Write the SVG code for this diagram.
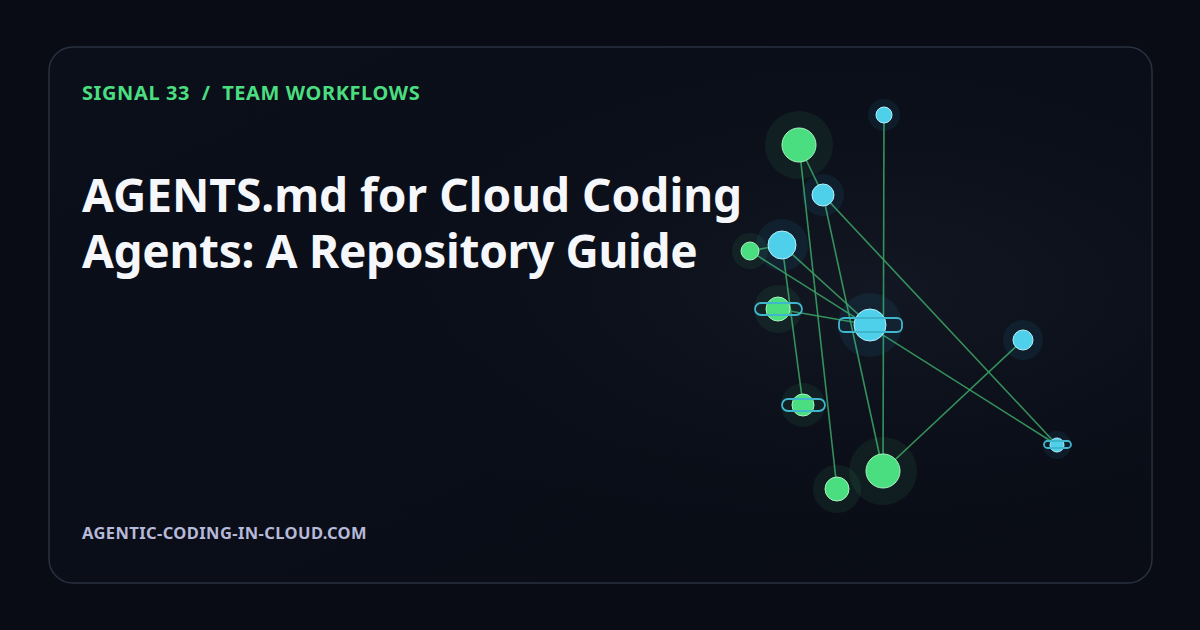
<svg xmlns="http://www.w3.org/2000/svg" width="1200" height="630" viewBox="0 0 1200 630">
<defs>
<linearGradient id="bg" x1="0" y1="0" x2="1" y2="1"><stop offset="0" stop-color="#0b0f1a"/><stop offset="1" stop-color="#0a0d16"/></linearGradient>
<radialGradient id="glow" cx="0.75" cy="0.45" r="0.5"><stop offset="0" stop-color="#141a26" stop-opacity="0.8"/><stop offset="1" stop-color="#0b0f1a" stop-opacity="0"/></radialGradient>
</defs>
<style>
.t{font-family:"Noto Sans","Open Sans",sans-serif;font-weight:700}
.e{stroke:#3a9e62;stroke-width:1.6;fill:none;opacity:0.9}
.hg{fill:#4ade80;opacity:0.08}
.hc{fill:#38bdf8;opacity:0.08}
.g{fill:#4ade80;stroke:#a7f3c0;stroke-width:1}
.c{fill:#4fd0ea;stroke:#b5effa;stroke-width:1}
.r{fill:none;stroke:#3fb6cc;stroke-width:1.8}
</style>
<rect width="1200" height="630" fill="#090c15"/>
<rect x="49" y="47" width="1103" height="536" rx="24" fill="url(#bg)" stroke="#2b3040" stroke-width="1.5"/>
<rect x="49" y="47" width="1103" height="536" rx="24" fill="url(#glow)"/>
<text class="t" x="82" y="100" font-size="20" fill="#4ade80" letter-spacing="0.6" xml:space="preserve" style="white-space:pre">SIGNAL 33  /  TEAM WORKFLOWS</text>
<text class="t" x="82" y="212" font-size="46" fill="#f5f7fa">AGENTS.md for Cloud Coding</text>
<text class="t" x="82" y="268" font-size="46" fill="#f5f7fa" letter-spacing="-0.3">Agents: A Repository Guide</text>
<text class="t" x="82" y="539" font-size="16.5" fill="#b7b9d9" letter-spacing="0.4">AGENTIC-CODING-IN-CLOUD.COM</text>
<g id="connectors">
<line class="e" x1="799" y1="145" x2="823" y2="195"/>
<line class="e" x1="799" y1="145" x2="837" y2="489"/>
<line class="e" x1="884" y1="115" x2="883" y2="471"/>
<line class="e" x1="823" y1="195" x2="1057" y2="445"/>
<line class="e" x1="823" y1="195" x2="883" y2="471"/>
<line class="e" x1="782" y1="245" x2="803" y2="405"/>
<line class="e" x1="782" y1="245" x2="870" y2="325"/>
<line class="e" x1="750" y1="251" x2="782" y2="245"/>
<line class="e" x1="750" y1="251" x2="1057" y2="445"/>
<line class="e" x1="778" y1="309" x2="870" y2="325"/>
<line class="e" x1="1023" y1="340" x2="883" y2="471"/>
</g>
<g id="nA"><circle class="hg" cx="799" cy="145" r="34"/><circle class="g" cx="799" cy="145" r="17"/></g>
<g id="nB"><circle class="hc" cx="884" cy="115" r="16"/><circle class="c" cx="884" cy="115" r="8"/></g>
<g id="nC"><circle class="hc" cx="823" cy="195" r="21"/><circle class="c" cx="823" cy="195" r="11"/></g>
<g id="nD"><circle class="hc" cx="782" cy="245" r="26"/><circle class="c" cx="782" cy="245" r="14"/></g>
<g id="nE"><circle class="hg" cx="750" cy="251" r="18"/><circle class="g" cx="750" cy="251" r="9"/></g>
<g id="nF"><circle class="hg" cx="778" cy="309" r="24"/><circle class="g" cx="778" cy="309" r="12"/><rect class="r" x="755" y="303" width="47" height="12" rx="6"/></g>
<g id="nG"><circle class="hc" cx="870" cy="325" r="32"/><circle class="c" cx="870" cy="325" r="16"/><rect class="r" x="839" y="318" width="63" height="14" rx="5"/></g>
<g id="nH"><circle class="hc" cx="1023" cy="340" r="20"/><circle class="c" cx="1023" cy="340" r="10"/></g>
<g id="nI"><circle class="hg" cx="803" cy="405" r="22"/><circle class="g" cx="803" cy="405" r="11"/><rect class="r" x="782" y="399" width="43" height="12" rx="6"/></g>
<g id="nJ"><circle class="hc" cx="1057" cy="445" r="14"/><circle class="c" cx="1057" cy="445" r="7"/><rect class="r" x="1044" y="441" width="27" height="7" rx="3.5"/></g>
<g id="nK"><circle class="hg" cx="883" cy="471" r="34"/><circle class="g" cx="883" cy="471" r="17"/></g>
<g id="nL"><circle class="hg" cx="837" cy="489" r="24"/><circle class="g" cx="837" cy="489" r="12"/></g>
</svg>
